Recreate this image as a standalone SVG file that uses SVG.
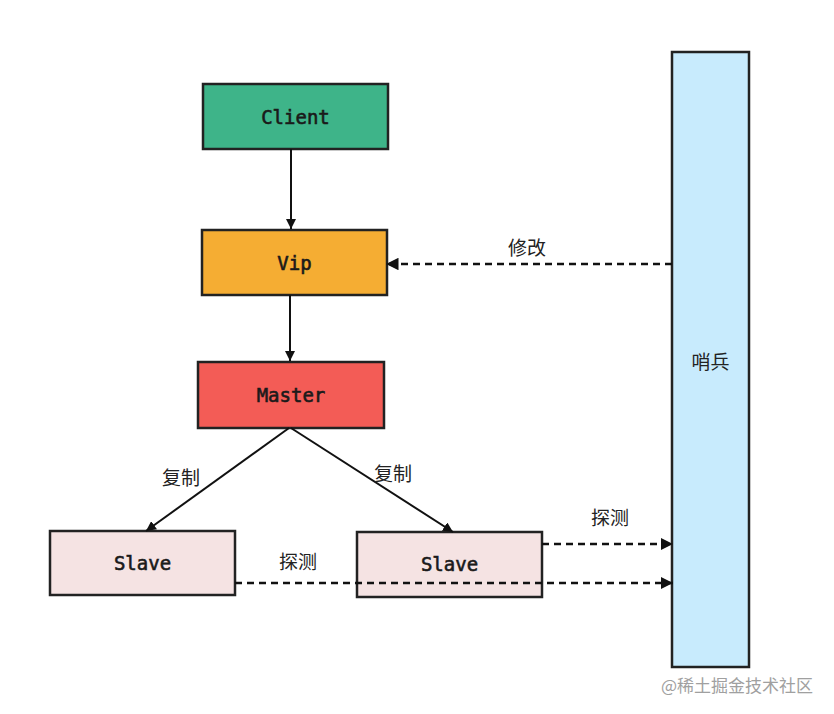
<svg xmlns="http://www.w3.org/2000/svg" width="834" height="714" viewBox="0 0 834 714">
<style>
.box{stroke:#222;stroke-width:2.5}
.lbl{font-family:"DejaVu Sans Mono","Liberation Mono",monospace;font-size:19px;font-weight:normal;fill:#1a1a1a;stroke:#1a1a1a;stroke-width:0.6;text-anchor:middle;dominant-baseline:central}
.cn{font-family:"Noto Sans CJK SC","Noto Sans",sans-serif;font-size:19px;fill:#222;text-anchor:middle;dominant-baseline:central}
.solid{stroke:#111;stroke-width:2;fill:none}
.dash{stroke:#111;stroke-width:2.5;fill:none;stroke-dasharray:7 5}
</style>
<defs>
<marker id="ah" viewBox="0 0 10 10" refX="10" refY="5" markerWidth="5" markerHeight="5" orient="auto" markerUnits="strokeWidth">
<path d="M0,0 L10,5 L0,10 z" fill="#111"/>
</marker>
</defs>
<rect width="834" height="714" fill="#fff"/>
<g id="client"><rect class="box" x="203" y="84" width="185" height="65" fill="#3eb489"/><text class="lbl" x="295.5" y="117">Client</text></g>
<g id="vip"><rect class="box" x="202" y="230" width="185" height="65" fill="#f5ad33"/><text class="lbl" x="294.5" y="263">Vip</text></g>
<g id="master"><rect class="box" x="198" y="362" width="186" height="66" fill="#f35c56"/><text class="lbl" x="291" y="395">Master</text></g>
<g id="slave1"><rect class="box" x="50" y="531" width="185" height="64" fill="#f5e3e3"/><text class="lbl" x="142.5" y="563">Slave</text></g>
<g id="slave2"><rect class="box" x="357" y="532" width="185" height="65" fill="#f5e3e3"/><text class="lbl" x="449.5" y="564">Slave</text></g>
<g id="sentinel"><rect class="box" x="672" y="52" width="77" height="615" fill="#c8ebfd"/><text class="cn" x="710.5" y="360">哨兵</text></g>
<g id="connectors">
<line class="solid" x1="291" y1="149" x2="291" y2="229" marker-end="url(#ah)"/>
<line class="solid" x1="290" y1="295" x2="290" y2="361" marker-end="url(#ah)"/>
<line class="solid" x1="289" y1="428" x2="146" y2="531" marker-end="url(#ah)"/>
<line class="solid" x1="291" y1="428" x2="453" y2="532" marker-end="url(#ah)"/>
<line class="dash" x1="672" y1="264" x2="386" y2="264" marker-end="url(#ah)"/>
<line class="dash" x1="542" y1="544" x2="673" y2="544" marker-end="url(#ah)"/>
<line class="dash" x1="235" y1="583" x2="673" y2="583" marker-end="url(#ah)"/>
</g>
<g id="labels">
<text class="cn" x="527" y="246">修改</text>
<text class="cn" x="181" y="476">复制</text>
<text class="cn" x="393" y="472">复制</text>
<text class="cn" x="610" y="516">探测</text>
<text class="cn" x="298" y="560">探测</text>
</g>
<text x="737" y="684" style="font-family:'Noto Sans CJK SC','Noto Sans',sans-serif;font-size:17px;fill:#a0a0a0;text-anchor:middle;dominant-baseline:central">@稀土掘金技术社区</text>
</svg>
